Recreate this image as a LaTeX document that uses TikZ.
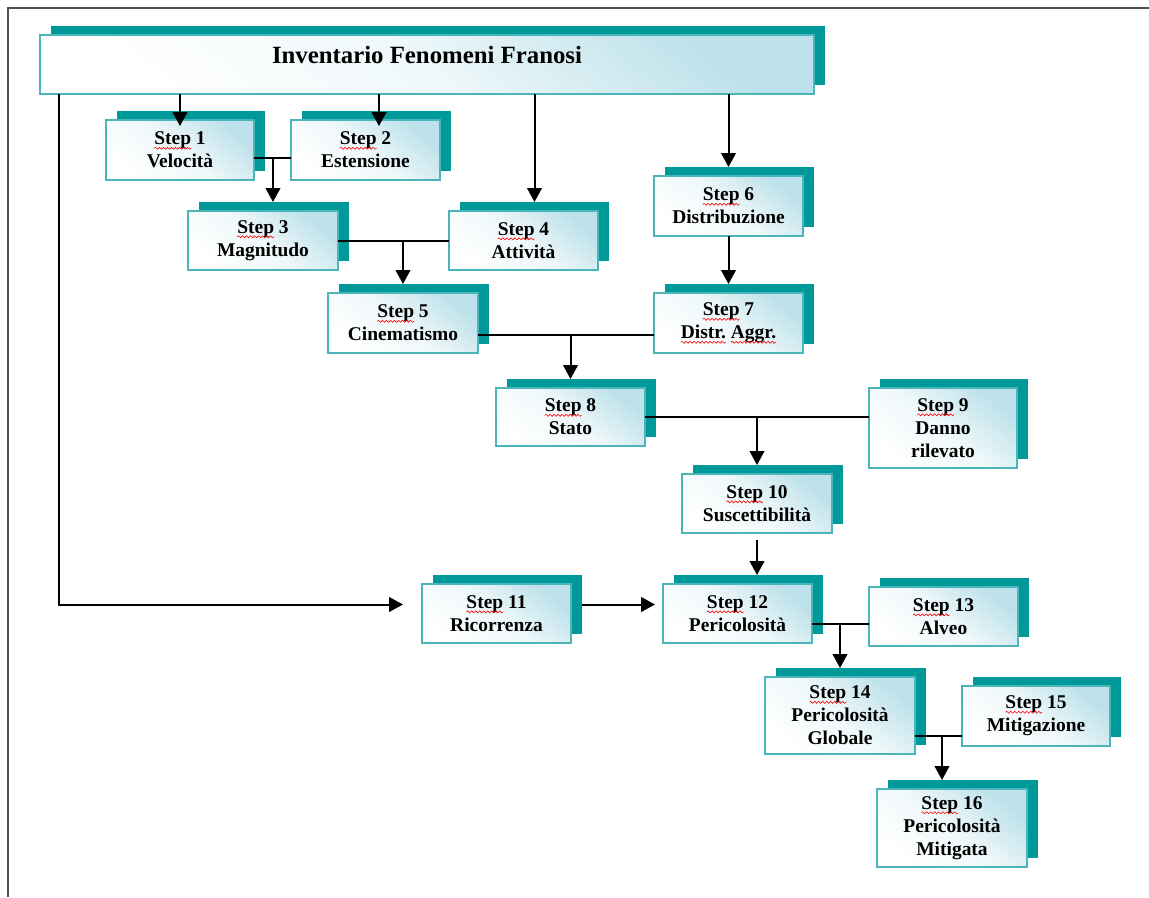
\documentclass[tikz,border=0pt]{standalone}
\usepackage{fontspec}
\setmainfont{Liberation Serif}
\usetikzlibrary{arrows.meta,calc,decorations.pathmorphing}
\definecolor{shteal}{RGB}{0,153,153}
\definecolor{edgeteal}{RGB}{75,182,186}
\definecolor{tint}{RGB}{188,225,234}
\definecolor{bordergray}{RGB}{80,80,80}
\newsavebox\sqbox
\newcommand\sq[1]{\sbox\sqbox{#1}\usebox\sqbox\tikz[overlay]\draw[squig] (-\wd\sqbox,-2.6pt) -- (0pt,-2.6pt);}
\tikzset{
  squig/.style={draw=red, line width=0.45pt, decorate, decoration={snake, amplitude=0.75pt, segment length=3pt}},
  shbox/.style={fill=shteal, draw=none, inner sep=0pt, outer sep=0pt},
  frbox/.style={draw=edgeteal, line width=1.3pt, top color=tint, bottom color=white, middle color=white!75!tint, shading angle=-40, inner sep=2pt, outer sep=0pt, align=center, font=\bfseries\fontsize{14.6}{17.25}\selectfont},
  link/.style={draw=black, line width=1.5pt},
  arr/.style={link, -{Triangle[width=11pt,length=10.5pt]}},
  frame/.style={draw=bordergray, line width=1.6pt},
}
\newcommand\mkstep[6]{%
  \node[shbox, minimum width=#4*0.75pt, minimum height=#5*0.75pt] (#1s) at ({#2+11},{#3-9}) {};
  \node[frbox, minimum width=#4*0.75pt, minimum height=#5*0.75pt] (#1) at (#2,#3) {#6};
}
\begin{document}
\begin{tikzpicture}[x=0.75pt,y=-0.75pt]
\useasboundingbox (0,0) rectangle (1149,897);
\coordinate (fr1) at (8,897);
\coordinate (fr2) at (8,8);
\coordinate (fr3) at (1149,8);
\draw[frame] (fr1) -- (fr2) -- (fr3);

\mkstep{T}{427}{64.5}{774}{59}{\fontsize{18.6}{22}\selectfont\raisebox{0.8pt}[0pt][0pt]{Inventario Fenomeni Franosi}}
\mkstep{s1}{180}{150}{148}{60}{\sq{Step} 1\\Velocità}
\mkstep{s2}{365.5}{150}{149}{60}{\sq{Step} 2\\Estensione}
\mkstep{s3}{263}{240.5}{150}{59}{\sq{Step} 3\\Magnitudo}
\mkstep{s4}{523.5}{240.5}{149}{59}{\sq{Step} 4\\Attività}
\mkstep{s5}{403}{323}{150}{60}{\sq{Step} 5\\Cinematismo}
\mkstep{s6}{728.5}{206}{149}{60}{\sq{Step} 6\\Distribuzione}
\mkstep{s7}{728.5}{323}{149}{60}{\sq{Step} 7\\\sq{Distr.} \sq{Aggr.}}
\mkstep{s8}{570.5}{417}{149}{58}{\sq{Step} 8\\Stato}
\mkstep{s9}{943}{428}{148}{80}{\sq{Step} 9\\Danno\\rilevato}
\mkstep{s10}{757}{503.5}{150}{59}{\sq{Step} 10\\Suscettibilità}
\mkstep{s11}{496.5}{613.5}{149}{59}{\sq{Step} 11\\Ricorrenza}
\mkstep{s12}{737.5}{613.5}{149}{59}{\sq{Step} 12\\Pericolosità}
\mkstep{s13}{943.5}{616.5}{149}{59}{\sq{Step} 13\\Alveo}
\mkstep{s14}{840}{715.5}{150}{77}{\sq{Step} 14\\Pericolosità\\Globale}
\mkstep{s15}{1036}{716}{148}{60}{\sq{Step} 15\\Mitigazione}
\mkstep{s16}{952}{828}{150}{78}{\sq{Step} 16\\Pericolosità\\Mitigata}

\draw[arr] (T.south -| s1.north) -- ($(s1.north)+(0,6)$);
\coordinate (a2) at ($(s2.north)+(13.5,6)$);
\draw[arr] (T.south -| a2) -- (a2);
\draw[arr] (T.south -| s4s.north) -- (s4s.north);
\draw[arr] (T.south -| s6.north) -- (s6.north |- s6s.north);
\draw[arr] (s6.south) -- (s6.south |- s7s.north);
\coordinate (j12) at ($(s1.east)+(19,8)$);
\draw[link] (s1.east |- j12) -- (s2.west |- j12);
\draw[arr] (j12) -- (j12 |- s3s.north);
\coordinate (j34) at (s5.north |- s3.east);
\draw[link] (s3.east) -- (s4.west);
\draw[arr] (j34) -- (j34 |- s5s.north);
\coordinate (j57) at ($(s8.north |- s5.east)+(0,12)$);
\draw[link] (s5.east |- j57) -- (s7.west |- j57);
\draw[arr] (j57) -- (j57 |- s8s.north);
\coordinate (j89) at (s10.north |- s8.east);
\draw[link] (s8.east) -- (s9.west |- s8.east);
\draw[arr] (j89) -- (j89 |- s10s.north);
\draw[arr] ($(s10.south)+(0,7)$) -- (s10.south |- s12s.north);
\coordinate (lx) at ($(T.south west)+(19,0)$);
\coordinate (e11) at ($(s11.west |- s11s.east)+(-19,0)$);
\draw[arr] (lx) |- (e11);
\draw[arr] (s11s.east) -- ($(s12.west |- s11s.east)+(-8,0)$);
\coordinate (j1213) at ($(s14.north |- s12.east)+(0,10.5)$);
\draw[link] (s12.east |- j1213) -- (s13.west |- j1213);
\draw[arr] (j1213) -- (j1213 |- s14s.north);
\coordinate (j1415) at ($(s16.north |- s14.east)+(-10,20.5)$);
\draw[link] (s14.east |- j1415) -- (s15.west |- j1415);
\draw[arr] (j1415) -- (j1415 |- s16s.north);
\end{tikzpicture}
\end{document}
